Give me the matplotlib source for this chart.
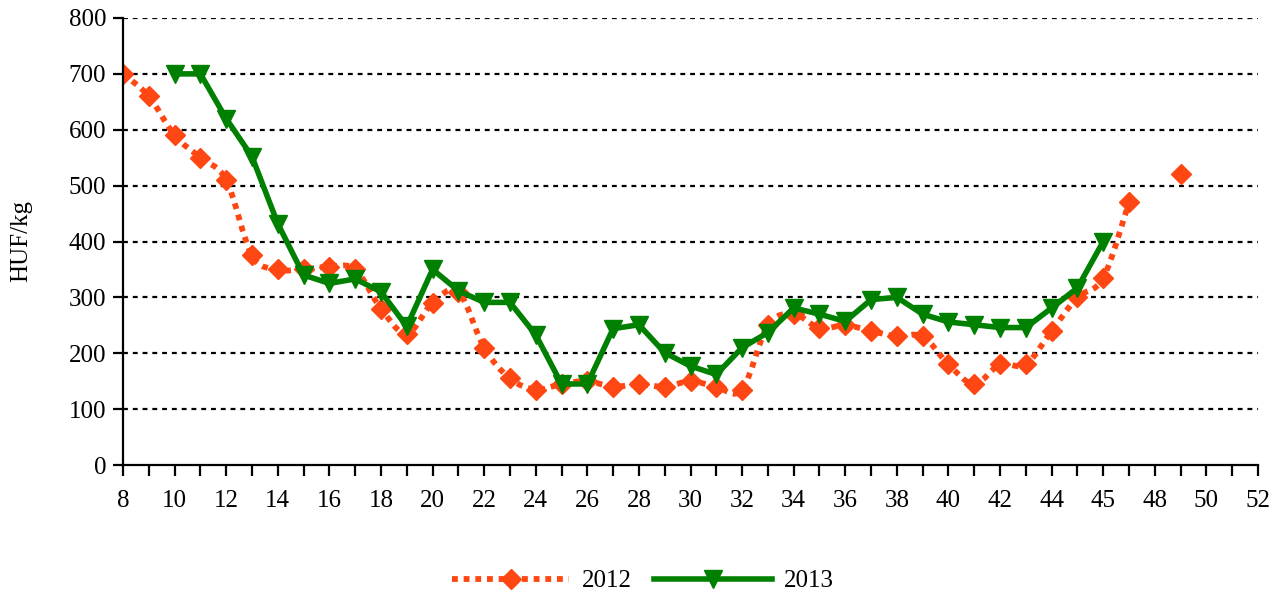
import numpy as np
import matplotlib
matplotlib.use("Agg")
import matplotlib.pyplot as plt
from matplotlib.path import Path
from matplotlib.patches import PathPatch
from matplotlib.lines import Line2D

weeks = list(range(8, 53))
tick_weeks = list(range(8, 53, 2))
tick_labels = [str(w) for w in range(8, 45, 2)] + ["45", "48", "50", "52"]

# 2012 series (weeks 8..47, then 49 isolated)
weeks_2012 = list(range(8, 48))
vals_2012 = [700, 660, 590, 550, 510, 375, 350, 350, 355, 350,
             280, 235, 290, 310, 210, 155, 135, 145, 150, 140,
             145, 140, 150, 140, 135, 250, 270, 245, 250, 240,
             230, 230, 180, 145, 180, 180, 240, 300, 335, 470]
weeks_2012_extra = [49]
vals_2012_extra = [520]

# 2013 series (weeks 10..46)
weeks_2013 = list(range(10, 47))
vals_2013 = [700, 700, 620, 552, 432, 340, 325, 333, 310, 248,
             350, 312, 291, 291, 233, 145, 145, 244, 251, 201,
             177, 162, 210, 237, 281, 270, 257, 296, 300, 270,
             256, 251, 246, 246, 281, 317, 400]

red = "#FF4713"
green = "#008000"
FS = 18

plt.rcParams["font.family"] = ["Liberation Serif", "DejaVu Serif"]

fig = plt.figure(figsize=(12.81, 5.99), dpi=100)
ax = fig.add_axes([123/1281, 1-465/599, (1258-123)/1281, (465-18)/599])

# grid
for v in range(100, 801, 100):
    ax.axhline(v, color="black", lw=1.6, ls=(0, (2.2, 2.2)), zorder=1)

# smoothed 2012 line (Bezier, Excel-like smoothing)
x = np.array(weeks_2012, float)
y = np.array(vals_2012, float)
verts = [(x[0], y[0])]
codes = [Path.MOVETO]
n = len(x)
for i in range(n - 1):
    p0 = np.array([x[max(i-1, 0)], y[max(i-1, 0)]])
    p1 = np.array([x[i], y[i]])
    p2 = np.array([x[i+1], y[i+1]])
    p3 = np.array([x[min(i+2, n-1)], y[min(i+2, n-1)]])
    c1 = p1 + (p2 - p0) / 6.0
    c2 = p2 - (p3 - p1) / 6.0
    verts += [tuple(c1), tuple(c2), tuple(p2)]
    codes += [Path.CURVE4] * 3
patch = PathPatch(Path(verts, codes), facecolor="none", edgecolor=red,
                  lw=4.2, ls=(0, (1.0, 1.0)), zorder=3)
patch.set_capstyle("butt")
ax.add_patch(patch)
ax.plot(weeks_2012, vals_2012, ls="none", marker="D", ms=10, color=red,
        mec=red, zorder=4)
ax.plot(weeks_2012_extra, vals_2012_extra, ls="none", marker="D", ms=10,
        color=red, mec=red, zorder=4)

ax.plot(weeks_2013, vals_2013, color=green, lw=4, marker="v", ms=13,
        mec=green, zorder=5)

ax.set_xlim(8, 52)
ax.set_ylim(0, 800)
ax.set_yticks(range(0, 801, 100))
ax.set_xticks(weeks, minor=True)
ax.set_xticks(tick_weeks)
ax.set_xticklabels(tick_labels)
ax.tick_params(axis="both", which="both", direction="out", color="black",
               width=1.6, labelsize=FS)
ax.tick_params(axis="x", which="both", length=8, pad=10)
ax.tick_params(axis="y", length=7, pad=5)
for s in ["top", "right"]:
    ax.spines[s].set_visible(False)
for s in ["left", "bottom"]:
    ax.spines[s].set_linewidth(1.6)
    ax.spines[s].set_zorder(6)

ax.set_ylabel("HUF/kg", fontsize=FS)
ax.yaxis.set_label_coords(-0.080, 0.5)

h1 = Line2D([], [], color=red, lw=4.2, ls=(0, (1.0, 1.0)), marker="D",
            ms=10, mec=red, dash_capstyle="butt")
h2 = Line2D([], [], color=green, lw=4, marker="v", ms=13, mec=green)
fig.legend([h1, h2], ["2012", "2013"], loc="center",
           bbox_to_anchor=(643/1281, 1-581/599), ncol=2, frameon=False,
           fontsize=FS, handlelength=4.7, columnspacing=0.9,
           handletextpad=0.5)

fig.savefig("out.png", dpi=100)
